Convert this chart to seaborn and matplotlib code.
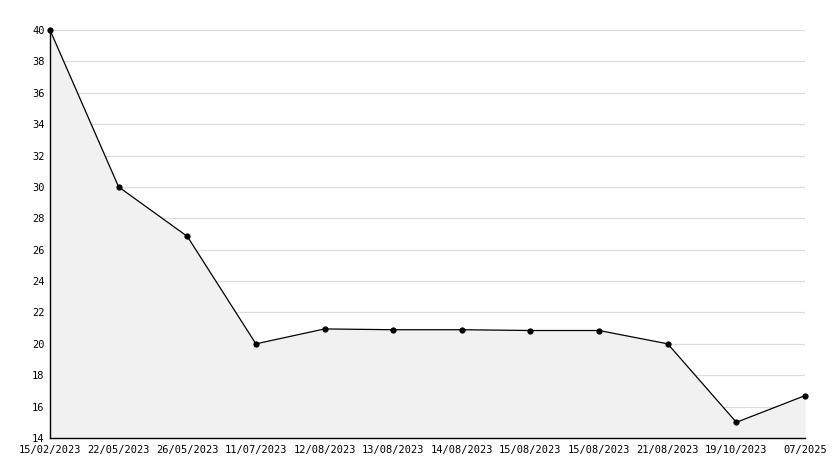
import numpy as np
import pandas as pd
import matplotlib
matplotlib.use("Agg")
import matplotlib.pyplot as plt
import seaborn as sns
from matplotlib.ticker import MultipleLocator

dates = ["15/02/2023", "22/05/2023", "26/05/2023", "11/07/2023", "12/08/2023",
         "13/08/2023", "14/08/2023", "15/08/2023", "15/08/2023", "21/08/2023",
         "19/10/2023", "07/2025"]
values = [40, 30, 26.85, 20, 20.95, 20.9, 20.9, 20.85, 20.85, 20, 15, 16.7]

df = pd.DataFrame({"pos": np.arange(len(dates)), "value": values})

sns.set_style("white")
plt.rcParams["font.family"] = ["DejaVu Sans Mono"]

fig = plt.figure(figsize=(8.34, 4.68), dpi=100)
ax = fig.add_axes([50 / 834, 1 - 438 / 468, 755 / 834, 408 / 468])

ax.fill_between(df["pos"], df["value"], 14, color="#f1f1f1", zorder=2, linewidth=0)
sns.lineplot(data=df, x="pos", y="value", ax=ax, color="black", linewidth=0.9,
             marker="o", markersize=4.5, markeredgewidth=0, zorder=3, clip_on=False)

ax.set_xlim(0, len(dates) - 1)
ax.set_ylim(14, 40)
ax.yaxis.set_major_locator(MultipleLocator(2))
ax.yaxis.set_minor_locator(MultipleLocator(1))
ax.set_xticks(df["pos"])
ax.set_xticklabels(dates)
ax.grid(axis="y", which="major", color="#dddddd", linewidth=0.9, zorder=1)
ax.set_axisbelow(True)

for s in ["top", "right"]:
    ax.spines[s].set_visible(False)
for s in ["left", "bottom"]:
    ax.spines[s].set_color("black")
    ax.spines[s].set_linewidth(1)
    ax.spines[s].set_zorder(4)

ax.tick_params(axis="y", which="major", direction="in", length=5, width=1,
               labelsize=7.5, pad=4, colors="black")
ax.tick_params(axis="y", which="minor", direction="in", length=4, width=1, colors="black")
ax.tick_params(axis="x", direction="in", length=5, width=1, labelsize=7.5, pad=5,
               colors="black")
ax.set_xlabel("")
ax.set_ylabel("")

fig.savefig("out.png", dpi=100, facecolor="white")
